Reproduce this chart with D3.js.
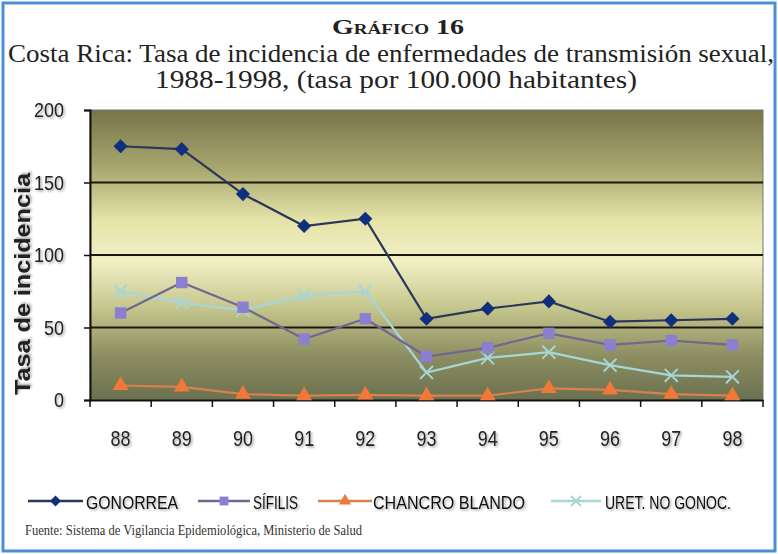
<!DOCTYPE html>
<html>
<head>
<meta charset="utf-8">
<script src="https://cdn.jsdelivr.net/npm/d3@7"></script>
<style>
  body { margin: 0; background: #fff; }
  svg { display: block; }
</style>
</head>
<body>
<div id="chart"></div>
<script>
// data
var years = ["88", "89", "90", "91", "92", "93", "94", "95", "96", "97", "98"];
var gonorrea = [175, 173, 142, 120, 125, 56, 63, 68, 54, 55, 56];
var sifilis = [60, 81, 64, 42, 56, 30, 36, 46, 38, 41, 38];
var chancro = [10, 9, 4, 3, 3.5, 3, 3, 8, 7, 4, 3];
var uretritis = [75, 67, 62, 72, 75, 19, 29, 33, 24, 17, 16];
var yTicks = [0, 50, 100, 150, 200];

var series = [
  {name: "GONORREA", values: gonorrea, line: "#2c3658", fill: "#10307e", shape: d3.symbolSquare, size: 100, rot: 45},
  {name: "SÍFILIS", values: sifilis, line: "#6f6890", fill: "#8b7fd0", shape: d3.symbolSquare, size: 130, rot: 0},
  {name: "CHANCRO BLANDO", values: chancro, line: "#d8804e", fill: "#f07838", shape: d3.symbolTriangle, size: 110, rot: 0},
  {name: "URET. NO GONOC.", values: uretritis, line: "#a6d6d8", fill: "none", shape: d3.symbolX, size: 110, rot: 0, open: true}
];

var svgWidth = 778, svgHeight = 554;
var margin = {top: 110, right: 15, bottom: 154, left: 90};
var width = svgWidth - margin.left - margin.right;
var height = svgHeight - margin.top - margin.bottom;

var svg = d3.select("#chart").append("svg")
  .attr("width", svgWidth)
  .attr("height", svgHeight);

// frame
svg.append("rect").attr("x", 3).attr("y", 3).attr("width", svgWidth - 6).attr("height", svgHeight - 6)
  .attr("fill", "none").attr("stroke", "#4a8fd8").attr("stroke-width", 3);

// titles
svg.append("text").attr("x", 398).attr("y", 34).attr("text-anchor", "middle")
  .attr("textLength", 132).attr("lengthAdjust", "spacingAndGlyphs")
  .style("font-family", "Liberation Serif").style("font-weight", "bold").style("font-size", "22px")
  .style("font-variant", "small-caps").attr("fill", "#222").text("Gráfico 16");
svg.append("text").attr("x", 391).attr("y", 62).attr("text-anchor", "middle")
  .attr("textLength", 766).attr("lengthAdjust", "spacingAndGlyphs")
  .style("font-family", "Liberation Serif").style("font-size", "25px").attr("fill", "#222")
  .text("Costa Rica:  Tasa de incidencia de enfermedades de transmisión sexual,");
svg.append("text").attr("x", 396).attr("y", 88).attr("text-anchor", "middle")
  .attr("textLength", 482).attr("lengthAdjust", "spacingAndGlyphs")
  .style("font-family", "Liberation Serif").style("font-size", "25px").attr("fill", "#222")
  .text("1988-1998,  (tasa por 100.000 habitantes)");

var defs = svg.append("defs");
var grad = defs.append("linearGradient").attr("id", "bg").attr("x1", 0).attr("y1", 0).attr("x2", 0).attr("y2", 1);
[["0", "#77754a"], ["0.2", "#a8a66e"], ["0.38", "#e4e3a8"], ["0.52", "#f1f0c6"], ["0.68", "#c6c68e"], ["0.85", "#8c8d60"], ["1", "#6a7150"]]
  .forEach(function(s) { grad.append("stop").attr("offset", s[0]).attr("stop-color", s[1]); });
var shadow = defs.append("filter").attr("id", "sh").attr("x", "-5%").attr("y", "-5%").attr("width", "120%").attr("height", "120%");
shadow.append("feDropShadow").attr("dx", 1.5).attr("dy", 1.5).attr("stdDeviation", 1).attr("flood-color", "#000").attr("flood-opacity", 0.35);

var g = svg.append("g").attr("transform", "translate(" + margin.left + "," + margin.top + ")");

var x = d3.scalePoint().domain(years).range([0, width]).padding(0.5);
var xBand = d3.scaleBand().domain(years).range([0, width]);
var y = d3.scaleLinear().domain([0, 200]).range([height, 0]);

g.append("rect").attr("width", width).attr("height", height)
  .attr("fill", "url(#bg)").attr("stroke", "#777").attr("stroke-width", 1);

// gridlines
g.selectAll(".grid").data(yTicks.filter(function(t) { return t > 0 && t < 200; }))
  .enter().append("line")
  .attr("x1", 0).attr("x2", width)
  .attr("y1", function(d) { return y(d); }).attr("y2", function(d) { return y(d); })
  .attr("stroke", "#1a1a10").attr("stroke-width", 2);

// axes
var leftAxis = d3.axisLeft(y).tickValues(yTicks).tickSize(6).tickPadding(20);
var yAxis = g.append("g").call(leftAxis);
yAxis.select(".domain").attr("stroke", "#111").attr("stroke-width", 2);
yAxis.selectAll("line").attr("stroke", "#111").attr("stroke-width", 1.5);
yAxis.selectAll("text").style("font-family", "Liberation Sans").style("font-size", "21px")
  .attr("textLength", function(d) { return String(d).length * 10; }).attr("lengthAdjust", "spacingAndGlyphs")
  .attr("fill", "#222").attr("filter", "url(#sh)");

var bottomAxis = d3.axisBottom(xBand).tickSize(0).tickPadding(30);
var xAxis = g.append("g").attr("transform", "translate(0," + height + ")").call(bottomAxis);
xAxis.select(".domain").attr("stroke", "#111").attr("stroke-width", 2);
xAxis.selectAll("text").style("font-family", "Liberation Sans").style("font-size", "22px")
  .attr("textLength", 20).attr("lengthAdjust", "spacingAndGlyphs")
  .attr("fill", "#222").attr("filter", "url(#sh)");
// category boundary ticks
g.selectAll(".xt").data(years.concat(["end"])).enter().append("line")
  .attr("x1", function(d, i) { return i * xBand.bandwidth(); })
  .attr("x2", function(d, i) { return i * xBand.bandwidth(); })
  .attr("y1", height).attr("y2", height + 7)
  .attr("stroke", "#111").attr("stroke-width", 1.5);

svg.append("text")
  .attr("transform", "translate(30,284) rotate(-90)")
  .attr("text-anchor", "middle")
  .attr("textLength", 222).attr("lengthAdjust", "spacingAndGlyphs")
  .style("font-family", "Liberation Sans").style("font-weight", "bold").style("font-size", "22px")
  .attr("fill", "#222").attr("filter", "url(#sh)")
  .text("Tasa de incidencia");

var line = d3.line().x(function(d, i) { return x(years[i]); }).y(function(d) { return y(d); });

function drawMarker(sel, s, k) {
  sel.attr("d", d3.symbol().type(s.shape).size(s.size * k))
    .attr("fill", s.fill)
    .attr("stroke", s.open ? s.line : "none")
    .attr("stroke-width", s.open ? 2 : 0);
}

// draw back to front: uretritis, chancro, sifilis, gonorrea
series.slice().reverse().forEach(function(s) {
  g.append("path").datum(s.values)
    .attr("d", line).attr("fill", "none")
    .attr("stroke", s.line).attr("stroke-width", 2.2);
  g.selectAll(null).data(s.values).enter().append("path")
    .attr("transform", function(d, i) {
      return "translate(" + x(years[i]) + "," + y(d) + ") rotate(" + s.rot + ")";
    })
    .call(drawMarker, s, 1);
});

// legend
var legendLine = [[28, 83], [198, 250], [318, 372], [551, 601]];
var legendText = [[86, 92], [253, 45], [373, 152], [605, 126]];
var legend = svg.append("g").attr("transform", "translate(0,501)");
series.forEach(function(s, i) {
  var l = legendLine[i];
  legend.append("line").attr("x1", l[0]).attr("x2", l[1]).attr("y1", 0).attr("y2", 0)
    .attr("stroke", s.line).attr("stroke-width", 2.5);
  legend.append("path")
    .attr("transform", "translate(" + ((l[0] + l[1]) / 2) + ",0) rotate(" + s.rot + ")")
    .call(drawMarker, s, 0.6);
  legend.append("text").attr("x", legendText[i][0]).attr("y", 8)
    .attr("textLength", legendText[i][1]).attr("lengthAdjust", "spacingAndGlyphs")
    .style("font-family", "Liberation Sans").style("font-size", "18px")
    .attr("fill", "#111").attr("filter", "url(#sh)")
    .text(s.name);
});

svg.append("text").attr("x", 25).attr("y", 535)
  .attr("textLength", 337).attr("lengthAdjust", "spacingAndGlyphs")
  .style("font-family", "Liberation Serif").style("font-size", "14px").attr("fill", "#333")
  .text("Fuente:  Sistema de Vigilancia Epidemiológica, Ministerio de Salud");
</script>
</body>
</html>
